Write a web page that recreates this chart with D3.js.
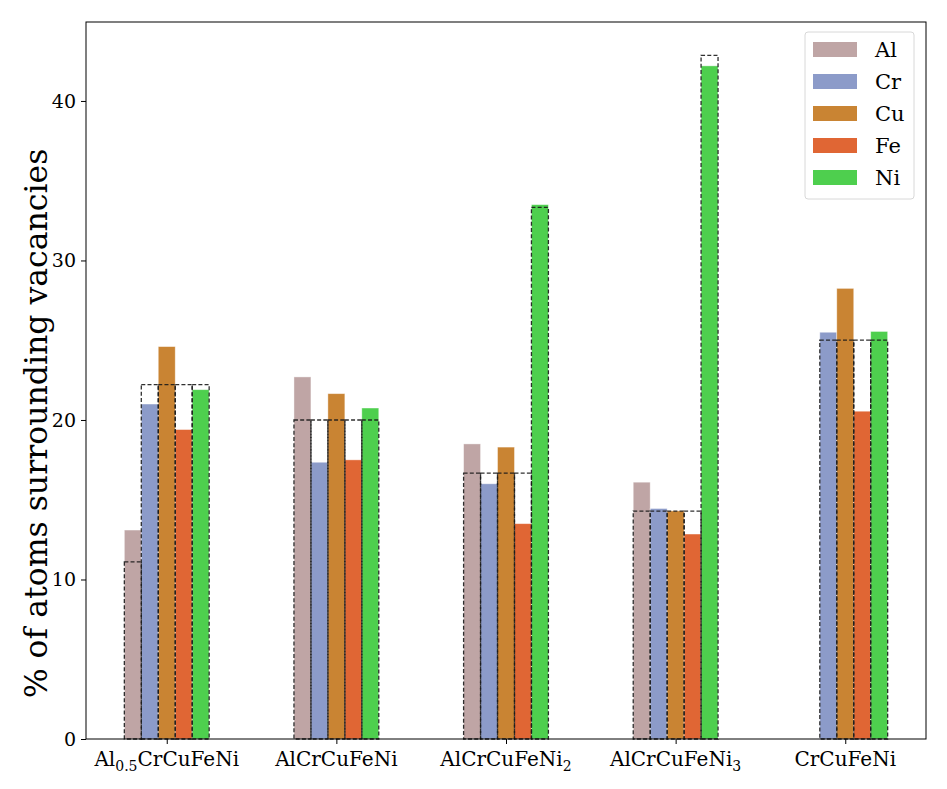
<!DOCTYPE html>
<html>
<head>
<meta charset="utf-8">
<script src="https://cdn.jsdelivr.net/npm/d3@7"></script>
<style>
  body { margin: 0; background: #fff; }
  svg text { font-family: "DejaVu Serif", serif; fill: #000; }
</style>
</head>
<body>
<svg id="chart" width="947" height="789"></svg>
<script>
// alloy compositions (x categories)
const alloys = ["Al0.5CrCuFeNi", "AlCrCuFeNi", "AlCrCuFeNi2", "AlCrCuFeNi3", "CrCuFeNi"];
const elements = ["Al", "Cr", "Cu", "Fe", "Ni"];
const colors = ["#bfa5a5", "#8c9bc9", "#c98433", "#e06634", "#4ecf4e"];

// measured % of atoms around vacancies, per element across alloys
const alVals = [13.1, 22.7, 18.5, 16.1, 0];
const crVals = [21.0, 17.35, 16.0, 14.45, 25.5];
const cuVals = [24.6, 21.65, 18.3, 14.3, 28.25];
const feVals = [19.4, 17.5, 13.5, 12.85, 20.55];
const niVals = [21.9, 20.75, 33.5, 42.2, 25.55];

// nominal composition (dashed outlines)
const alNom = [11.11, 20, 16.67, 14.29, 0];
const crNom = [22.22, 20, 16.67, 14.29, 25];
const cuNom = [22.22, 20, 16.67, 14.29, 25];
const feNom = [22.22, 20, 16.67, 14.29, 25];
const niNom = [22.22, 20, 33.33, 42.86, 25];

const yTicks = [0, 10, 20, 30, 40];

const measured = [alVals, crVals, cuVals, feVals, niVals];
const nominal = [alNom, crNom, cuNom, feNom, niNom];

const svg = d3.select('#chart');
const margin = { top: 22, right: 21, bottom: 50, left: 86 };
const width = 947 - margin.left - margin.right;
const height = 789 - margin.top - margin.bottom;

const g = svg.append('g').attr('transform', `translate(${margin.left},${margin.top})`);

// group positions
const x = d3.scaleLinear().domain([-0.476, alloys.length - 1 + 0.476]).range([0, width]);
const barW = 0.1;
const y = d3.scaleLinear().domain([0, 44.95]).range([height, 0]);

// bars
elements.forEach((el, k) => {
  const off = (k - 2) * barW;
  g.selectAll('.bar-' + el)
    .data(measured[k])
    .enter().append('rect')
    .attr('x', (d, i) => x(i + off - barW / 2))
    .attr('y', d => y(d))
    .attr('width', x(barW) - x(0))
    .attr('height', d => y(0) - y(d))
    .attr('fill', colors[k])
    .attr('stroke', '#fff')
    .attr('stroke-opacity', 0.5)
    .attr('stroke-width', 0.8);
});

// nominal outlines
elements.forEach((el, k) => {
  const off = (k - 2) * barW;
  g.selectAll('.nom-' + el)
    .data(nominal[k])
    .enter().append('rect')
    .attr('x', (d, i) => x(i + off - barW / 2))
    .attr('y', d => y(d))
    .attr('width', x(barW) - x(0))
    .attr('height', d => y(0) - y(d))
    .attr('fill', 'none')
    .attr('stroke', '#1a1a1a')
    .attr('stroke-opacity', 0.9)
    .attr('stroke-width', 1.3)
    .attr('stroke-dasharray', '4,2.2');
});

// y axis
const yAxis = g.append('g')
  .call(d3.axisLeft(y).tickValues(yTicks).tickSize(5).tickPadding(5));
yAxis.select('.domain').remove();
yAxis.selectAll('text').style('font-size', '19px');

// x axis
const xAxis = g.append('g')
  .attr('transform', `translate(0,${height})`)
  .call(d3.axisBottom(x).tickValues(d3.range(alloys.length)).tickSize(5).tickPadding(5).tickFormat(() => ''));
xAxis.select('.domain').remove();

// x tick labels with subscripts
const subs = { "Al0.5CrCuFeNi": ["Al", "0.5", "CrCuFeNi"], "AlCrCuFeNi2": ["AlCrCuFeNi", "2", ""], "AlCrCuFeNi3": ["AlCrCuFeNi", "3", ""] };
alloys.forEach((name, i) => {
  const t = g.append('text')
    .attr('x', x(i))
    .attr('y', height + 27)
    .attr('text-anchor', 'middle')
    .style('font-size', '20px');
  if (subs[name]) {
    const [a, s, b] = subs[name];
    t.append('tspan').text(a);
    t.append('tspan').attr('dy', 5).style('font-size', '14px').text(s);
    if (b) t.append('tspan').attr('dy', -5).text(b);
  } else {
    t.text(name);
  }
});

// frame
g.append('rect')
  .attr('width', width)
  .attr('height', height)
  .attr('fill', 'none')
  .attr('stroke', '#000')
  .attr('stroke-width', 1);

// y label
g.append('text')
  .attr('transform', `translate(${36 - margin.left},${height / 2 + 43}) rotate(-90)`)
  .attr('text-anchor', 'middle')
  .attr('dy', '0.35em')
  .style('font-size', '31.5px')
  .text('% of atoms surrounding vacancies');

// legend
const lg = g.append('g').attr('transform', `translate(${805 - margin.left},${32 - margin.top})`);
lg.append('rect')
  .attr('width', 109).attr('height', 167)
  .attr('rx', 3)
  .attr('fill', '#fff')
  .attr('stroke', '#d8d8d8');
elements.forEach((el, k) => {
  const row = lg.append('g').attr('transform', `translate(0,${18 + k * 32})`);
  row.append('rect')
    .attr('x', 8).attr('y', -8)
    .attr('width', 44).attr('height', 15)
    .attr('fill', colors[k]);
  row.append('text')
    .attr('x', 70).attr('y', 0)
    .attr('dy', '0.35em')
    .style('font-size', '21px')
    .text(el);
});
</script>
</body>
</html>
